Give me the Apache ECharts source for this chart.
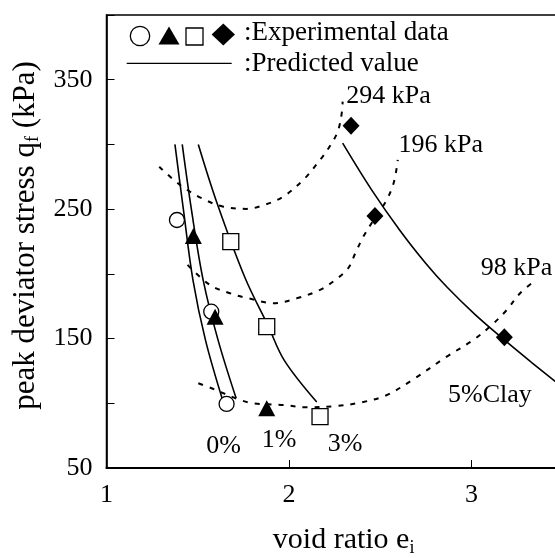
<!DOCTYPE html>
<html>
<head>
<meta charset="utf-8">
<script src="https://cdn.jsdelivr.net/npm/echarts@6/dist/echarts.min.js"></script>
<style>
  html, body { margin: 0; padding: 0; background: #fff; }
  #main { width: 555px; height: 558px; }
</style>
</head>
<body>
<div id="main"></div>
<script>
// 试验点 (void ratio, peak deviator stress)
var exp0 = [[1.386, 241.6], [1.574, 170.8], [1.658, 99.5]];
var exp1 = [[1.476, 229.3], [1.595, 166.9], [1.878, 96.1]];
var exp3 = [[1.681, 224.9], [1.878, 159.2], [2.170, 89.7]];
var exp5 = [[2.340, 314.5], [2.471, 244.7], [3.180, 151.0]];

// 预测曲线
var pred0 = [[1.375, 300], [1.422, 249], [1.474, 195], [1.542, 149], [1.633, 104]];
var pred1 = [[1.415, 300], [1.466, 249], [1.530, 195], [1.611, 149], [1.710, 104]];
var pred3 = [[1.503, 300], [1.605, 255], [1.759, 197], [1.885, 160], [1.975, 133], [2.152, 101]];
var pred5 = [[2.294, 301], [2.45, 265.5], [2.608, 233.5], [2.75, 208], [2.864, 190], [3.02, 168.5], [3.18, 149],
  [3.33, 131.5], [3.466, 116]];

// 围压线 (dotted)
var p294 = [[1.289, 282.8], [1.403, 268.7], [1.522, 258.4], [1.640, 251.9], [1.768, 250.2], [1.870, 253.5],
  [1.969, 259.7], [2.078, 272.6], [2.170, 288.0], [2.234, 300.9], [2.270, 311.2], [2.289, 324.1], [2.294, 333.1]];
var p196 = [[1.444, 206.9], [1.567, 191.4], [1.677, 185.0], [1.777, 181.1], [1.914, 177.3], [2.042, 181.1],
  [2.170, 187.6], [2.260, 196.0], [2.325, 204.5], [2.365, 216.5], [2.407, 228.7], [2.470, 243.0], [2.535, 257.1],
  [2.575, 271.0], [2.596, 288.0]];
var p98 = [[1.503, 115.5], [1.576, 111.6], [1.732, 102.6], [1.804, 100.0], [1.969, 98.7], [2.097, 96.9],
  [2.261, 97.9], [2.389, 100.5], [2.530, 106.0], [2.681, 118.5], [2.864, 136.0], [3.010, 148.9],
  [3.101, 159.2], [3.193, 172.1], [3.266, 185.0], [3.353, 195.3]];

// 图中标注
var noteText = ['294 kPa', '196 kPa', '98 kPa', '5%Clay', '0%', '1%', '3%'];
var noteX = [2.545, 2.832, 3.247, 3.101, 1.641, 1.945, 2.307];
var noteY = [337, 299.6, 204.3, 106.4, 67, 71.6, 68.5];

var tickX = [1, 2, 3];
var tickY = [50, 150, 250, 350];

var serif = 'Liberation Serif';
var chartDom = document.getElementById('main');
var myChart = echarts.init(chartDom);

var solid = function (d) {
  return { type: 'line', data: d, smooth: 0.35, symbol: 'none', lineStyle: { color: '#000', width: 1.6 }, z: 2 };
};
var dotted = function (d) {
  return { type: 'line', data: d, smooth: 0.35, symbol: 'none', lineStyle: { color: '#000', width: 2, type: [5, 7] }, z: 2 };
};
var marks = function (d, sym, size, filled) {
  return {
    type: 'scatter', data: d, symbol: sym, symbolSize: size, z: 5,
    itemStyle: { color: filled ? '#000' : '#fff', borderColor: '#000', borderWidth: filled ? 0 : 1.3, opacity: 1 }
  };
};

var notes = noteText.map(function (t, i) {
  return { name: t, value: [noteX[i], noteY[i]] };
});

var option = {
  backgroundColor: '#fff',
  animation: false,
  grid: {
    left: 106.5, top: 15, width: 456.25, height: 453, outerBoundsMode: 'none',
    show: true, borderColor: '#000', borderWidth: 1.5
  },
  xAxis: {
    type: 'value', min: 1, max: 3.5, interval: 1,
    axisLine: { lineStyle: { color: '#000', width: 2 } },
    axisTick: { inside: true, length: 8, lineStyle: { color: '#000', width: 1 } },
    splitLine: { show: false },
    axisLabel: {
      color: '#000', fontFamily: serif, fontSize: 26, margin: 14,
      formatter: function (v) { return tickX.indexOf(v) >= 0 ? String(v) : ''; }
    },
    name: '{a|void ratio e}{s|i}',
    nameLocation: 'middle', nameGap: 52,
    nameTextStyle: {
      padding: [0, 0, 0, 18],
      rich: {
        a: { fontFamily: serif, fontSize: 30, color: '#000', lineHeight: 32, verticalAlign: 'top' },
        s: { fontFamily: serif, fontSize: 18, color: '#000', lineHeight: 18, verticalAlign: 'bottom', padding: [26, 0, 0, 0] }
      }
    }
  },
  yAxis: {
    type: 'value', min: 50, max: 400, interval: 50,
    axisLine: { lineStyle: { color: '#000', width: 1.6 } },
    axisTick: { inside: true, length: 8, lineStyle: { color: '#000', width: 1 } },
    splitLine: { show: false },
    axisLabel: {
      color: '#000', fontFamily: serif, fontSize: 26, margin: 14,
      formatter: function (v) { return tickY.indexOf(v) >= 0 ? String(v) : ''; }
    },
    name: '{a|peak deviator stress q}{s|f}{a| (kPa)}',
    nameLocation: 'middle', nameGap: 58,
    nameTextStyle: {
      padding: [0, 0, 0, 12],
      rich: {
        a: { fontFamily: serif, fontSize: 31, color: '#000', lineHeight: 32, verticalAlign: 'top' },
        s: { fontFamily: serif, fontSize: 18, color: '#000', lineHeight: 18, verticalAlign: 'bottom', padding: [22, 0, 0, 0] }
      }
    }
  },
  graphic: [
    { type: 'circle', shape: { cx: 140, cy: 36, r: 9.7 }, style: { fill: '#fff', stroke: '#000', lineWidth: 1.3 } },
    { type: 'polygon', shape: { points: [[158.5, 44.5], [179.5, 44.5], [169, 26.5]] }, style: { fill: '#000' } },
    { type: 'rect', shape: { x: 186, y: 28, width: 17, height: 17 }, style: { fill: '#fff', stroke: '#000', lineWidth: 1.3 } },
    { type: 'polygon', shape: { points: [[223.3, 23.5], [235, 34.5], [223.3, 45.5], [211.6, 34.5]] }, style: { fill: '#000' } },
    { type: 'text', left: 244, top: 19, style: { text: ':Experimental data', font: '27px "Liberation Serif"', fill: '#000' } },
    { type: 'line', shape: { x1: 126.7, y1: 63.3, x2: 231.7, y2: 63.3 }, style: { stroke: '#000', lineWidth: 1.3 } },
    { type: 'text', left: 244, top: 50, style: { text: ':Predicted value', font: '27px "Liberation Serif"', fill: '#000' } }
  ],
  series: [
    dotted(p294), dotted(p196), dotted(p98),
    solid(pred0), solid(pred1), solid(pred3), solid(pred5),
    marks(exp0, 'circle', 15, false),
    marks(exp1, 'triangle', [17, 16], true),
    marks(exp3, 'rect', 16, false),
    marks(exp5, 'diamond', [17, 18], true),
    {
      type: 'scatter', data: notes, symbolSize: 0, z: 6, silent: true,
      itemStyle: { color: '#000', opacity: 1 },
      label: {
        show: true, position: [0, 0], align: 'center', verticalAlign: 'middle',
        color: '#000', fontFamily: serif, fontSize: 26,
        formatter: function (p) { return p.name; }
      }
    }
  ]
};

option && myChart.setOption(option);
</script>
</body>
</html>
